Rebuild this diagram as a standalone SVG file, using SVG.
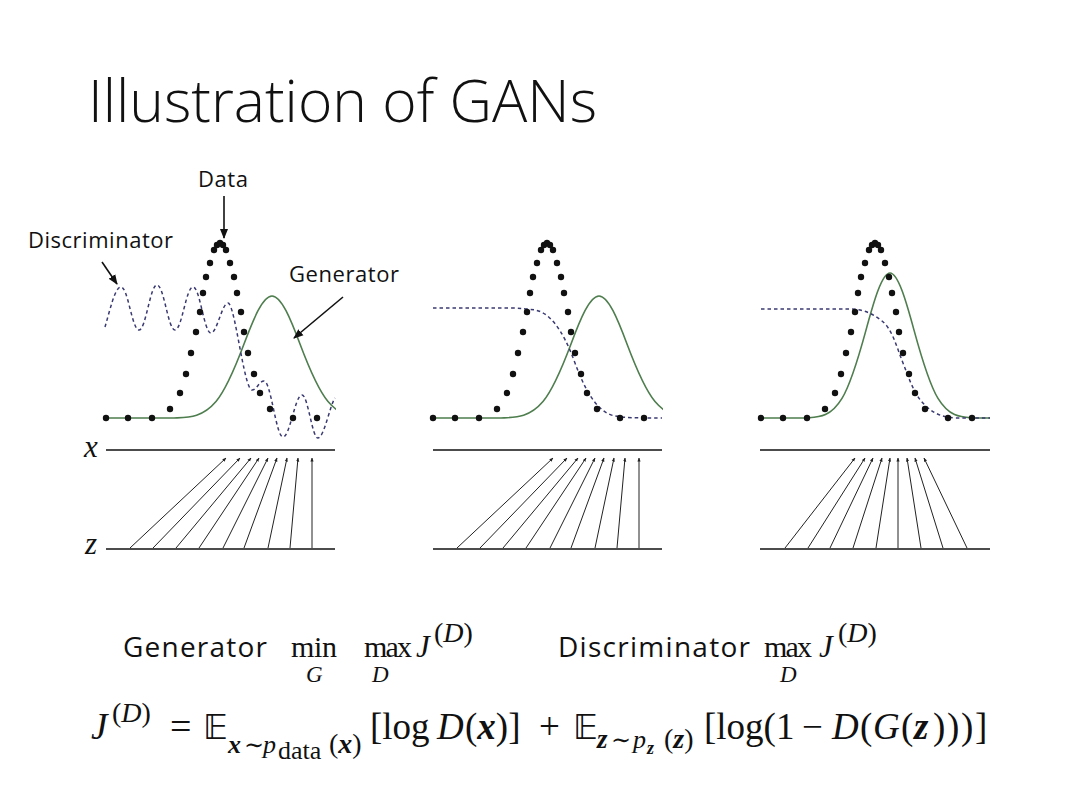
<svg xmlns="http://www.w3.org/2000/svg" xmlns:xlink="http://www.w3.org/1999/xlink" width="1080" height="810" viewBox="0 0 1080 810">
<style>
.t{font-family:"Open Sans","Liberation Sans",sans-serif;fill:#111}
.m{font-family:"Liberation Serif","DejaVu Serif",serif;fill:#111}
.i{font-style:italic}
.b{font-style:italic;font-weight:bold}
.bb{font-family:"DejaVu Sans","DejaVu Serif",serif}
.axis{stroke:#111;stroke-width:1.6;fill:none}
.map{stroke:#222;stroke-width:1;marker-end:url(#tiny)}
.gen{fill:none;stroke:#4e7d4e;stroke-width:1.6}
.disc{fill:none;stroke:#3a3a72;stroke-width:1.5;stroke-dasharray:3.5 3}
.call{stroke:#111;stroke-width:1.6;marker-end:url(#head)}
.dot{fill:#111}
</style>
<defs>
<marker id="head" viewBox="0 0 10 10" refX="9" refY="5" markerWidth="10" markerHeight="10" markerUnits="userSpaceOnUse" orient="auto"><path d="M0,1 L10,5 L0,9 z" fill="#111"/></marker>
<marker id="tiny" viewBox="0 0 10 10" refX="9" refY="5" markerWidth="4" markerHeight="4" markerUnits="userSpaceOnUse" orient="auto"><path d="M0,1 L10,5 L0,9 z" fill="#222"/></marker>
<clipPath id="c1"><rect x="100" y="200" width="236" height="230"/></clipPath>
<clipPath id="c2"><rect x="427" y="200" width="236" height="230"/></clipPath>
<g id="dots" class="dot">
<circle cx="106" cy="418" r="3.2"/><circle cx="128" cy="418" r="3.2"/><circle cx="152" cy="418" r="3.2"/><circle cx="170" cy="409" r="3.2"/><circle cx="180" cy="393" r="3.2"/><circle cx="186" cy="374" r="3.2"/><circle cx="191" cy="353" r="3.2"/><circle cx="196" cy="332" r="3.2"/><circle cx="200" cy="312" r="3.2"/><circle cx="203" cy="293" r="3.2"/><circle cx="206" cy="277" r="3.2"/><circle cx="210" cy="263" r="3.2"/><circle cx="214" cy="250" r="3.2"/><circle cx="217" cy="245" r="3.2"/><circle cx="220" cy="243" r="3.2"/><circle cx="223" cy="245" r="3.2"/><circle cx="226" cy="250" r="3.2"/><circle cx="230" cy="263" r="3.2"/><circle cx="234" cy="277" r="3.2"/><circle cx="237" cy="293" r="3.2"/><circle cx="241" cy="312" r="3.2"/><circle cx="244" cy="332" r="3.2"/><circle cx="248" cy="353" r="3.2"/><circle cx="254" cy="374" r="3.2"/><circle cx="260" cy="393" r="3.2"/><circle cx="270" cy="409" r="3.2"/><circle cx="293" cy="418" r="3.2"/><circle cx="317" cy="418" r="3.2"/>
</g>
</defs>
<rect width="1080" height="810" fill="#fff"/>

<g id="title"><text class="t" x="88" y="122" font-size="58" font-weight="300" textLength="509" lengthAdjust="spacingAndGlyphs">Illustration of GANs</text></g>

<g id="panel1">
<line class="axis" x1="106" y1="450" x2="335" y2="450"/>
<line class="axis" x1="106" y1="549" x2="335" y2="549"/>
<text class="m i" x="84" y="457" font-size="31">x</text>
<text class="m i" x="85" y="554" font-size="31">z</text>
<path class="gen" clip-path="url(#c1)" d="M106,418 L174,418 C188,417.3 202,418 216,401.5 C225.3,390.5 234.7,368.7 244,344 C253.3,319.3 262.7,296 272,296 C281.3,296 290.7,319.3 300,344 C309.3,368.7 318.7,390.5 328,401.5 C342,418 356,417.3 370,418"/>
<path class="disc" d="M105,327 C110,310 115,287 121,287 C128,287 132,330 139,330 C146,330 150,285 157,285 C164,285 168,330 175,330 C182,330 186,287 193,287 C200,287 204,333 211,333 C217,333 222,303 228,303 C235,303 244,390 252,390 C257,390 259,381 264,381 C271,381 276,437 283,437 C290,437 295,395 302,395 C308,395 312,438 318,438 C324,438 330,405 335,398"/>
<use href="#dots"/>
</g>

<g id="panel2">
<line class="axis" x1="433" y1="450" x2="662" y2="450"/>
<line class="axis" x1="433" y1="549" x2="662" y2="549"/>
<path class="gen" clip-path="url(#c2)" d="M433,418 L501,418 C515,417.3 529,418 543,401.5 C552.3,390.5 561.7,368.7 571,344 C580.3,319.3 589.7,296 599,296 C608.3,296 617.7,319.3 627,344 C636.3,368.7 645.7,390.5 655,401.5 C669,418 683,417.3 697,418"/>
<path class="disc" d="M433,308 L510,308 C520,308 528,309 535,310 C548.3,312.5 561.7,326.3 575,363 C588.3,399.7 601.7,413.5 615,416 C625,417.8 635,418 662,418"/>
<use href="#dots" x="327"/>
</g>

<g id="panel3">
<line class="axis" x1="760" y1="450" x2="990" y2="450"/>
<line class="axis" x1="760" y1="549" x2="990" y2="549"/>
<path class="gen" d="M761,418 L806,418 C818,417.1 830,418 842,398.4 C850,385.3 858,359.4 866,330.1 C874,300.7 882,273 890,273 C898,273 906,300.7 914,330.1 C922,359.4 930,385.3 938,398.4 C950,418 962,417.1 974,418 L990,418"/>
<path class="disc" d="M761,309 L850,309 C862,309 872,313 882,321 C892,329 896,345 903,363 C910,381 915,397 927,407 C935,414 942,417 955,418 L990,418"/>
<use href="#dots" x="655"/>
</g>

<g id="labels">
<text class="t" x="198" y="187" font-size="22" textLength="50">Data</text>
<text class="t" x="28" y="248" font-size="22" textLength="145">Discriminator</text>
<text class="t" x="289" y="282" font-size="22" textLength="110">Generator</text>
</g>

<g id="connectors">
<line class="call" x1="224" y1="196" x2="224" y2="238"/>
<line class="call" x1="102" y1="262" x2="117" y2="284"/>
<line class="call" x1="343" y1="297" x2="294" y2="338"/>
<g id="map1">
<line class="map" x1="130" y1="548" x2="226" y2="458"/><line class="map" x1="153" y1="548" x2="240" y2="458"/><line class="map" x1="176" y1="548" x2="251" y2="458"/><line class="map" x1="199" y1="548" x2="259" y2="458"/><line class="map" x1="223" y1="548" x2="268" y2="458"/><line class="map" x1="244" y1="548" x2="277" y2="458"/><line class="map" x1="268" y1="548" x2="287" y2="458"/><line class="map" x1="290" y1="548" x2="298" y2="458"/><line class="map" x1="312" y1="548" x2="312" y2="458"/>
</g>
<use href="#map1" x="327"/>
<g id="map3">
<line class="map" x1="785" y1="548" x2="855" y2="458"/><line class="map" x1="808" y1="548" x2="865" y2="458"/><line class="map" x1="830" y1="548" x2="873" y2="458"/><line class="map" x1="853" y1="548" x2="882" y2="458"/><line class="map" x1="876" y1="548" x2="890" y2="458"/><line class="map" x1="898" y1="548" x2="898" y2="458"/><line class="map" x1="921" y1="548" x2="907" y2="458"/><line class="map" x1="943" y1="548" x2="915" y2="458"/><line class="map" x1="967" y1="548" x2="924" y2="458"/>
</g>
</g>

<g id="objectives">
<text class="t" x="123" y="657" font-size="28" textLength="144">Generator</text>
<text class="m" x="291" y="657" font-size="30" textLength="46">min</text>
<text class="m i" x="306" y="682" font-size="23">G</text>
<text class="m" x="364" y="657" font-size="30" textLength="48">max</text>
<text class="m i" x="372" y="682" font-size="23">D</text>
<text class="m i" x="416" y="657" font-size="31">J</text>
<text class="m" x="434" y="642" font-size="28">(<tspan class="i">D</tspan>)</text>

<text class="t" x="558" y="657" font-size="28" textLength="192">Discriminator</text>
<text class="m" x="764" y="657" font-size="30" textLength="48">max</text>
<text class="m i" x="780" y="682" font-size="23">D</text>
<text class="m i" x="819" y="657" font-size="31">J</text>
<text class="m" x="838" y="642" font-size="28">(<tspan class="i">D</tspan>)</text>
</g>

<g id="equation">
<text class="m i" x="91" y="739" font-size="37">J</text>
<text class="m" x="112" y="722" font-size="28">(<tspan class="i">D</tspan>)</text>
<text class="m" x="170" y="739" font-size="38">=</text>
<text class="m bb" x="203" y="739" font-size="34">𝔼</text>
<text class="m b" x="228" y="753" font-size="26">x</text>
<text class="m" x="244" y="753" font-size="24">∼</text>
<text class="m i" x="263" y="753" font-size="26">p</text>
<text class="m" x="278" y="759" font-size="26">data</text>
<text class="m" x="329" y="753" font-size="28">(<tspan class="b">x</tspan>)</text>
<text class="m" x="370" y="739" font-size="37">[log</text>
<text class="m i" x="437" y="739" font-size="37">D</text>
<text class="m" x="465" y="739" font-size="37">(<tspan class="b">x</tspan>)]</text>
<text class="m" x="539" y="739" font-size="37">+</text>
<text class="m bb" x="573" y="739" font-size="34">𝔼</text>
<text class="m b" x="597" y="748" font-size="27">z</text>
<text class="m" x="611" y="748" font-size="24">∼</text>
<text class="m i" x="633" y="748" font-size="26">p</text>
<text class="m b" x="647" y="754" font-size="18">z</text>
<text class="m" x="664" y="748" font-size="28">(<tspan class="b">z</tspan>)</text>
<text class="m" x="704" y="739" font-size="37">[log(1</text>
<text class="m" x="802" y="739" font-size="37">−</text>
<text class="m i" x="832" y="739" font-size="37">D</text>
<text class="m" x="860" y="739" font-size="37">(</text>
<text class="m i" x="873" y="739" font-size="37">G</text>
<text class="m" x="901" y="739" font-size="37">(</text>
<text class="m b" x="914" y="739" font-size="37">z</text>
<text class="m" x="933" y="739" font-size="37">)</text>
<text class="m" x="947" y="739" font-size="37">)</text>
<text class="m" x="961" y="739" font-size="37">)</text>
<text class="m" x="975" y="739" font-size="37">]</text>
</g>
</svg>
